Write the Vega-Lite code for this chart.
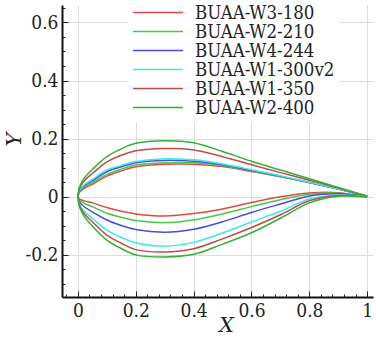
{
  "$schema": "https://vega.github.io/schema/vega-lite/v6.json",
  "width": 311,
  "height": 292,
  "autosize": {"type": "none"},
  "padding": {"left": 62, "top": 5, "right": 3, "bottom": 41},
  "background": "white",
  "config": {"view": {"stroke": null}},
  "data": {"values": [
    {"n":"BUAA-W3-180","s":"u","x":0,"y":0},{"n":"BUAA-W3-180","s":"u","x":0.005,"y":0.015},{"n":"BUAA-W3-180","s":"u","x":0.0125,"y":0.023},{"n":"BUAA-W3-180","s":"u","x":0.025,"y":0.031},{"n":"BUAA-W3-180","s":"u","x":0.05,"y":0.043},{"n":"BUAA-W3-180","s":"u","x":0.1,"y":0.071},{"n":"BUAA-W3-180","s":"u","x":0.15,"y":0.089},{"n":"BUAA-W3-180","s":"u","x":0.2,"y":0.103},{"n":"BUAA-W3-180","s":"u","x":0.3,"y":0.112},{"n":"BUAA-W3-180","s":"u","x":0.4,"y":0.112},{"n":"BUAA-W3-180","s":"u","x":0.5,"y":0.104},{"n":"BUAA-W3-180","s":"u","x":0.6,"y":0.087},{"n":"BUAA-W3-180","s":"u","x":0.7,"y":0.069},{"n":"BUAA-W3-180","s":"u","x":0.8,"y":0.049},{"n":"BUAA-W3-180","s":"u","x":0.9,"y":0.027},{"n":"BUAA-W3-180","s":"u","x":0.95,"y":0.015},{"n":"BUAA-W3-180","s":"u","x":1,"y":0.002},
    {"n":"BUAA-W2-210","s":"u","x":0,"y":0},{"n":"BUAA-W2-210","s":"u","x":0.005,"y":0.017},{"n":"BUAA-W2-210","s":"u","x":0.0125,"y":0.026},{"n":"BUAA-W2-210","s":"u","x":0.025,"y":0.035},{"n":"BUAA-W2-210","s":"u","x":0.05,"y":0.048},{"n":"BUAA-W2-210","s":"u","x":0.1,"y":0.077},{"n":"BUAA-W2-210","s":"u","x":0.15,"y":0.095},{"n":"BUAA-W2-210","s":"u","x":0.2,"y":0.109},{"n":"BUAA-W2-210","s":"u","x":0.3,"y":0.117},{"n":"BUAA-W2-210","s":"u","x":0.4,"y":0.117},{"n":"BUAA-W2-210","s":"u","x":0.5,"y":0.107},{"n":"BUAA-W2-210","s":"u","x":0.6,"y":0.089},{"n":"BUAA-W2-210","s":"u","x":0.7,"y":0.07},{"n":"BUAA-W2-210","s":"u","x":0.8,"y":0.049},{"n":"BUAA-W2-210","s":"u","x":0.9,"y":0.027},{"n":"BUAA-W2-210","s":"u","x":0.95,"y":0.015},{"n":"BUAA-W2-210","s":"u","x":1,"y":0.002},
    {"n":"BUAA-W4-244","s":"u","x":0,"y":0},{"n":"BUAA-W4-244","s":"u","x":0.005,"y":0.019},{"n":"BUAA-W4-244","s":"u","x":0.0125,"y":0.029},{"n":"BUAA-W4-244","s":"u","x":0.025,"y":0.04},{"n":"BUAA-W4-244","s":"u","x":0.05,"y":0.055},{"n":"BUAA-W4-244","s":"u","x":0.1,"y":0.086},{"n":"BUAA-W4-244","s":"u","x":0.15,"y":0.103},{"n":"BUAA-W4-244","s":"u","x":0.2,"y":0.117},{"n":"BUAA-W4-244","s":"u","x":0.3,"y":0.125},{"n":"BUAA-W4-244","s":"u","x":0.4,"y":0.122},{"n":"BUAA-W4-244","s":"u","x":0.5,"y":0.11},{"n":"BUAA-W4-244","s":"u","x":0.6,"y":0.091},{"n":"BUAA-W4-244","s":"u","x":0.7,"y":0.071},{"n":"BUAA-W4-244","s":"u","x":0.8,"y":0.049},{"n":"BUAA-W4-244","s":"u","x":0.9,"y":0.027},{"n":"BUAA-W4-244","s":"u","x":0.95,"y":0.015},{"n":"BUAA-W4-244","s":"u","x":1,"y":0.002},
    {"n":"BUAA-W1-300v2","s":"u","x":0,"y":0},{"n":"BUAA-W1-300v2","s":"u","x":0.005,"y":0.021},{"n":"BUAA-W1-300v2","s":"u","x":0.0125,"y":0.032},{"n":"BUAA-W1-300v2","s":"u","x":0.025,"y":0.044},{"n":"BUAA-W1-300v2","s":"u","x":0.05,"y":0.06},{"n":"BUAA-W1-300v2","s":"u","x":0.1,"y":0.092},{"n":"BUAA-W1-300v2","s":"u","x":0.15,"y":0.108},{"n":"BUAA-W1-300v2","s":"u","x":0.2,"y":0.121},{"n":"BUAA-W1-300v2","s":"u","x":0.3,"y":0.131},{"n":"BUAA-W1-300v2","s":"u","x":0.4,"y":0.127},{"n":"BUAA-W1-300v2","s":"u","x":0.5,"y":0.113},{"n":"BUAA-W1-300v2","s":"u","x":0.6,"y":0.093},{"n":"BUAA-W1-300v2","s":"u","x":0.7,"y":0.072},{"n":"BUAA-W1-300v2","s":"u","x":0.8,"y":0.05},{"n":"BUAA-W1-300v2","s":"u","x":0.9,"y":0.027},{"n":"BUAA-W1-300v2","s":"u","x":0.95,"y":0.015},{"n":"BUAA-W1-300v2","s":"u","x":1,"y":0.002},
    {"n":"BUAA-W1-350","s":"u","x":0,"y":0},{"n":"BUAA-W1-350","s":"u","x":0.005,"y":0.027},{"n":"BUAA-W1-350","s":"u","x":0.0125,"y":0.042},{"n":"BUAA-W1-350","s":"u","x":0.025,"y":0.058},{"n":"BUAA-W1-350","s":"u","x":0.05,"y":0.08},{"n":"BUAA-W1-350","s":"u","x":0.1,"y":0.12},{"n":"BUAA-W1-350","s":"u","x":0.15,"y":0.143},{"n":"BUAA-W1-350","s":"u","x":0.2,"y":0.158},{"n":"BUAA-W1-350","s":"u","x":0.3,"y":0.166},{"n":"BUAA-W1-350","s":"u","x":0.4,"y":0.161},{"n":"BUAA-W1-350","s":"u","x":0.5,"y":0.138},{"n":"BUAA-W1-350","s":"u","x":0.6,"y":0.11},{"n":"BUAA-W1-350","s":"u","x":0.7,"y":0.083},{"n":"BUAA-W1-350","s":"u","x":0.8,"y":0.057},{"n":"BUAA-W1-350","s":"u","x":0.9,"y":0.03},{"n":"BUAA-W1-350","s":"u","x":0.95,"y":0.016},{"n":"BUAA-W1-350","s":"u","x":1,"y":0.002},
    {"n":"BUAA-W2-400","s":"u","x":0,"y":0},{"n":"BUAA-W2-400","s":"u","x":0.005,"y":0.031},{"n":"BUAA-W2-400","s":"u","x":0.0125,"y":0.049},{"n":"BUAA-W2-400","s":"u","x":0.025,"y":0.068},{"n":"BUAA-W2-400","s":"u","x":0.05,"y":0.094},{"n":"BUAA-W2-400","s":"u","x":0.1,"y":0.138},{"n":"BUAA-W2-400","s":"u","x":0.15,"y":0.165},{"n":"BUAA-W2-400","s":"u","x":0.2,"y":0.184},{"n":"BUAA-W2-400","s":"u","x":0.3,"y":0.193},{"n":"BUAA-W2-400","s":"u","x":0.4,"y":0.186},{"n":"BUAA-W2-400","s":"u","x":0.5,"y":0.156},{"n":"BUAA-W2-400","s":"u","x":0.6,"y":0.122},{"n":"BUAA-W2-400","s":"u","x":0.7,"y":0.092},{"n":"BUAA-W2-400","s":"u","x":0.8,"y":0.062},{"n":"BUAA-W2-400","s":"u","x":0.9,"y":0.032},{"n":"BUAA-W2-400","s":"u","x":0.95,"y":0.017},{"n":"BUAA-W2-400","s":"u","x":1,"y":0.002},
    {"n":"BUAA-W3-180","s":"l","x":0,"y":0},{"n":"BUAA-W3-180","s":"l","x":0.005,"y":-0.007},{"n":"BUAA-W3-180","s":"l","x":0.0125,"y":-0.011},{"n":"BUAA-W3-180","s":"l","x":0.025,"y":-0.015},{"n":"BUAA-W3-180","s":"l","x":0.05,"y":-0.021},{"n":"BUAA-W3-180","s":"l","x":0.1,"y":-0.037},{"n":"BUAA-W3-180","s":"l","x":0.15,"y":-0.05},{"n":"BUAA-W3-180","s":"l","x":0.2,"y":-0.059},{"n":"BUAA-W3-180","s":"l","x":0.3,"y":-0.066},{"n":"BUAA-W3-180","s":"l","x":0.4,"y":-0.058},{"n":"BUAA-W3-180","s":"l","x":0.5,"y":-0.042},{"n":"BUAA-W3-180","s":"l","x":0.6,"y":-0.02},{"n":"BUAA-W3-180","s":"l","x":0.7,"y":0},{"n":"BUAA-W3-180","s":"l","x":0.8,"y":0.013},{"n":"BUAA-W3-180","s":"l","x":0.9,"y":0.014},{"n":"BUAA-W3-180","s":"l","x":0.95,"y":0.008},{"n":"BUAA-W3-180","s":"l","x":1,"y":0},
    {"n":"BUAA-W2-210","s":"l","x":0,"y":0},{"n":"BUAA-W2-210","s":"l","x":0.005,"y":-0.011},{"n":"BUAA-W2-210","s":"l","x":0.0125,"y":-0.017},{"n":"BUAA-W2-210","s":"l","x":0.025,"y":-0.024},{"n":"BUAA-W2-210","s":"l","x":0.05,"y":-0.034},{"n":"BUAA-W2-210","s":"l","x":0.1,"y":-0.057},{"n":"BUAA-W2-210","s":"l","x":0.15,"y":-0.071},{"n":"BUAA-W2-210","s":"l","x":0.2,"y":-0.082},{"n":"BUAA-W2-210","s":"l","x":0.3,"y":-0.089},{"n":"BUAA-W2-210","s":"l","x":0.4,"y":-0.08},{"n":"BUAA-W2-210","s":"l","x":0.5,"y":-0.059},{"n":"BUAA-W2-210","s":"l","x":0.6,"y":-0.034},{"n":"BUAA-W2-210","s":"l","x":0.7,"y":-0.01},{"n":"BUAA-W2-210","s":"l","x":0.8,"y":0.009},{"n":"BUAA-W2-210","s":"l","x":0.9,"y":0.012},{"n":"BUAA-W2-210","s":"l","x":0.95,"y":0.007},{"n":"BUAA-W2-210","s":"l","x":1,"y":0},
    {"n":"BUAA-W4-244","s":"l","x":0,"y":0},{"n":"BUAA-W4-244","s":"l","x":0.005,"y":-0.017},{"n":"BUAA-W4-244","s":"l","x":0.0125,"y":-0.026},{"n":"BUAA-W4-244","s":"l","x":0.025,"y":-0.037},{"n":"BUAA-W4-244","s":"l","x":0.05,"y":-0.052},{"n":"BUAA-W4-244","s":"l","x":0.1,"y":-0.08},{"n":"BUAA-W4-244","s":"l","x":0.15,"y":-0.099},{"n":"BUAA-W4-244","s":"l","x":0.2,"y":-0.113},{"n":"BUAA-W4-244","s":"l","x":0.3,"y":-0.122},{"n":"BUAA-W4-244","s":"l","x":0.4,"y":-0.112},{"n":"BUAA-W4-244","s":"l","x":0.5,"y":-0.086},{"n":"BUAA-W4-244","s":"l","x":0.6,"y":-0.054},{"n":"BUAA-W4-244","s":"l","x":0.7,"y":-0.025},{"n":"BUAA-W4-244","s":"l","x":0.8,"y":0.003},{"n":"BUAA-W4-244","s":"l","x":0.9,"y":0.01},{"n":"BUAA-W4-244","s":"l","x":0.95,"y":0.006},{"n":"BUAA-W4-244","s":"l","x":1,"y":0},
    {"n":"BUAA-W1-300v2","s":"l","x":0,"y":0},{"n":"BUAA-W1-300v2","s":"l","x":0.005,"y":-0.024},{"n":"BUAA-W1-300v2","s":"l","x":0.0125,"y":-0.038},{"n":"BUAA-W1-300v2","s":"l","x":0.025,"y":-0.053},{"n":"BUAA-W1-300v2","s":"l","x":0.05,"y":-0.074},{"n":"BUAA-W1-300v2","s":"l","x":0.1,"y":-0.115},{"n":"BUAA-W1-300v2","s":"l","x":0.15,"y":-0.14},{"n":"BUAA-W1-300v2","s":"l","x":0.2,"y":-0.158},{"n":"BUAA-W1-300v2","s":"l","x":0.3,"y":-0.17},{"n":"BUAA-W1-300v2","s":"l","x":0.4,"y":-0.157},{"n":"BUAA-W1-300v2","s":"l","x":0.5,"y":-0.125},{"n":"BUAA-W1-300v2","s":"l","x":0.6,"y":-0.087},{"n":"BUAA-W1-300v2","s":"l","x":0.7,"y":-0.05},{"n":"BUAA-W1-300v2","s":"l","x":0.8,"y":-0.008},{"n":"BUAA-W1-300v2","s":"l","x":0.9,"y":0.006},{"n":"BUAA-W1-300v2","s":"l","x":0.95,"y":0.004},{"n":"BUAA-W1-300v2","s":"l","x":1,"y":0},
    {"n":"BUAA-W1-350","s":"l","x":0,"y":0},{"n":"BUAA-W1-350","s":"l","x":0.005,"y":-0.028},{"n":"BUAA-W1-350","s":"l","x":0.0125,"y":-0.044},{"n":"BUAA-W1-350","s":"l","x":0.025,"y":-0.062},{"n":"BUAA-W1-350","s":"l","x":0.05,"y":-0.086},{"n":"BUAA-W1-350","s":"l","x":0.1,"y":-0.132},{"n":"BUAA-W1-350","s":"l","x":0.15,"y":-0.16},{"n":"BUAA-W1-350","s":"l","x":0.2,"y":-0.182},{"n":"BUAA-W1-350","s":"l","x":0.3,"y":-0.19},{"n":"BUAA-W1-350","s":"l","x":0.4,"y":-0.179},{"n":"BUAA-W1-350","s":"l","x":0.5,"y":-0.145},{"n":"BUAA-W1-350","s":"l","x":0.6,"y":-0.106},{"n":"BUAA-W1-350","s":"l","x":0.7,"y":-0.062},{"n":"BUAA-W1-350","s":"l","x":0.8,"y":-0.014},{"n":"BUAA-W1-350","s":"l","x":0.9,"y":0.004},{"n":"BUAA-W1-350","s":"l","x":0.95,"y":0.003},{"n":"BUAA-W1-350","s":"l","x":1,"y":0},
    {"n":"BUAA-W2-400","s":"l","x":0,"y":0},{"n":"BUAA-W2-400","s":"l","x":0.005,"y":-0.033},{"n":"BUAA-W2-400","s":"l","x":0.0125,"y":-0.051},{"n":"BUAA-W2-400","s":"l","x":0.025,"y":-0.072},{"n":"BUAA-W2-400","s":"l","x":0.05,"y":-0.101},{"n":"BUAA-W2-400","s":"l","x":0.1,"y":-0.149},{"n":"BUAA-W2-400","s":"l","x":0.15,"y":-0.178},{"n":"BUAA-W2-400","s":"l","x":0.2,"y":-0.2},{"n":"BUAA-W2-400","s":"l","x":0.3,"y":-0.207},{"n":"BUAA-W2-400","s":"l","x":0.4,"y":-0.198},{"n":"BUAA-W2-400","s":"l","x":0.5,"y":-0.163},{"n":"BUAA-W2-400","s":"l","x":0.6,"y":-0.124},{"n":"BUAA-W2-400","s":"l","x":0.7,"y":-0.074},{"n":"BUAA-W2-400","s":"l","x":0.8,"y":-0.021},{"n":"BUAA-W2-400","s":"l","x":0.9,"y":0.002},{"n":"BUAA-W2-400","s":"l","x":0.95,"y":0.002},{"n":"BUAA-W2-400","s":"l","x":1,"y":0}
  ]},
  "mark": {"type": "line", "strokeWidth": 1.5, "interpolate": "catmull-rom", "clip": true},
  "encoding": {
    "x": {
      "field": "x", "type": "quantitative",
      "scale": {"domain": [-0.055, 1.02], "nice": false, "zero": false},
      "axis": {
        "values": [-0.04,0,0.04,0.08,0.12,0.16,0.2,0.24,0.28,0.32,0.36,0.4,0.44,0.48,0.52,0.56,0.6,0.64,0.68,0.72,0.76,0.8,0.84,0.88,0.92,0.96,1],
        "labelExpr": "abs(datum.value*5-round(datum.value*5))<0.001 ? toString(round(datum.value*5)/5) : ''",
        "tickSize": {"condition": {"test": "abs(datum.value*5-round(datum.value*5))<0.001", "value": -6}, "value": -3},
        "gridOpacity": {"condition": {"test": "abs(datum.value*5-round(datum.value*5))<0.001", "value": 1}, "value": 0},
        "grid": true, "gridColor": "#dddddd", "gridWidth": 1,
        "domainColor": "#111111", "domainWidth": 2, "tickColor": "#222222", "tickWidth": 1,
        "labelFont": "DejaVu Serif Condensed", "labelFontSize": 19, "labelColor": "#222222", "labelPadding": 10,
        "labelOverlap": false, "labelFlush": false, "labelBound": false,
        "title": "X", "titleFont": "DejaVu Serif", "titleFontStyle": "italic", "titleFontWeight": "normal",
        "titleFontSize": 21, "titleColor": "#222222", "titleX": 164, "titleY": 28, "titleBaseline": "middle", "titleAlign": "center"
      }
    },
    "y": {
      "field": "y", "type": "quantitative",
      "scale": {"domain": [-0.345, 0.66], "nice": false, "zero": false},
      "axis": {
        "values": [-0.3,-0.25,-0.2,-0.15,-0.1,-0.05,0,0.05,0.1,0.15,0.2,0.25,0.3,0.35,0.4,0.45,0.5,0.55,0.6,0.65],
        "labelExpr": "abs(datum.value*5-round(datum.value*5))<0.001 ? toString(round(datum.value*5)/5) : ''",
        "tickSize": {"condition": {"test": "abs(datum.value*5-round(datum.value*5))<0.001", "value": -6}, "value": -3},
        "gridOpacity": {"condition": {"test": "abs(datum.value*5-round(datum.value*5))<0.001", "value": 1}, "value": 0},
        "grid": true, "gridColor": "#dddddd", "gridWidth": 1,
        "domainColor": "#111111", "domainWidth": 2, "tickColor": "#222222", "tickWidth": 1,
        "labelFont": "DejaVu Serif Condensed", "labelFontSize": 19, "labelColor": "#222222", "labelPadding": 10,
        "labelOverlap": false, "labelFlush": false, "labelBound": false,
        "title": "Y", "titleFont": "DejaVu Serif", "titleFontStyle": "italic", "titleFontWeight": "normal",
        "titleFontSize": 21, "titleColor": "#222222", "titleX": -48, "titleY": 134, "titleBaseline": "middle", "titleAlign": "center", "titleAngle": -90
      }
    },
    "color": {
      "field": "n", "type": "nominal",
      "scale": {
        "domain": ["BUAA-W3-180","BUAA-W2-210","BUAA-W4-244","BUAA-W1-300v2","BUAA-W1-350","BUAA-W2-400"],
        "range": ["#e04848","#48c848","#4b4bdc","#40e8e8","#c04a4a","#33b033"]
      },
      "legend": {
        "orient": "none", "legendX": 65, "legendY": -7, "title": null,
        "labelFont": "DejaVu Serif Condensed", "labelFontSize": 18.5, "labelColor": "#222222", "labelLimit": 400,
        "symbolType": "stroke", "symbolSize": 2500, "symbolStrokeWidth": 1.5,
        "labelOffset": 11, "rowPadding": 0, "clipHeight": 19, "fillColor": "white", "padding": 5
      }
    },
    "detail": {"field": "s", "type": "nominal"}
  }
}
